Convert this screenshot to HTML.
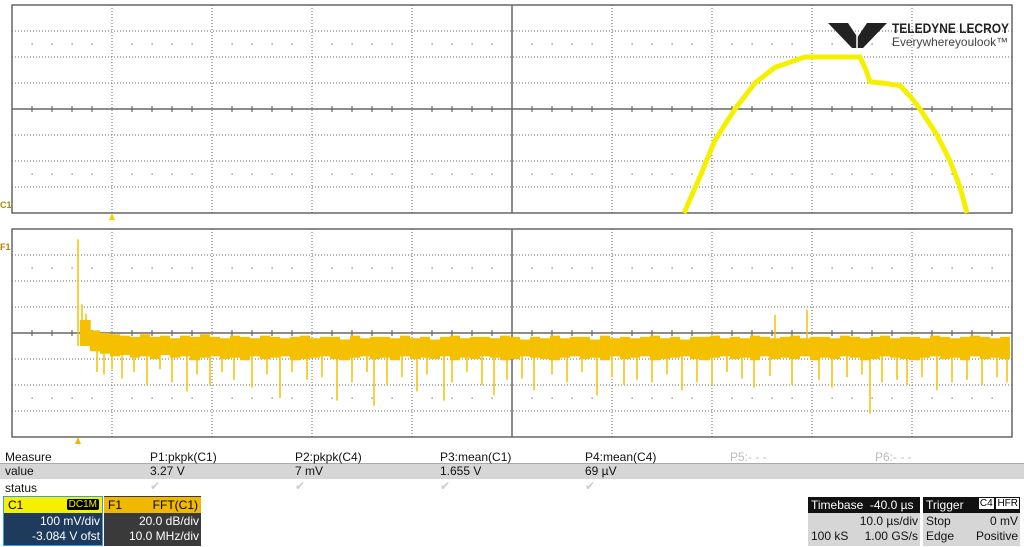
<!DOCTYPE html>
<html><head><meta charset="utf-8"><style>
html,body{margin:0;padding:0;background:#fff;width:1024px;height:547px;overflow:hidden;font-family:"Liberation Sans",sans-serif;}
svg{position:absolute;left:0;top:0}
.t{position:absolute;font-size:12px;color:#111;white-space:nowrap}
.box{position:absolute;font-size:12px;}
</style></head><body>
<svg id="chart" width="1024" height="547"></svg>

<div class="t" style="left:5px;top:450px">Measure</div>
<div style="position:absolute;left:0;top:463px;width:1024px;height:15px;background:#d6d6d6;border-top:1px solid #aaa"></div>
<div class="t" style="left:5px;top:464px">value</div>
<div class="t" style="left:5px;top:481px">status</div>
<div class="t" style="left:150px;top:450px">P1:pkpk(C1)</div>
<div class="t" style="left:295px;top:450px">P2:pkpk(C4)</div>
<div class="t" style="left:440px;top:450px">P3:mean(C1)</div>
<div class="t" style="left:585px;top:450px">P4:mean(C4)</div>
<div class="t" style="left:730px;top:450px;color:#bbb">P5:- - -</div>
<div class="t" style="left:875px;top:450px;color:#bbb">P6:- - -</div>
<div class="t" style="left:150px;top:464px">3.27 V</div>
<div class="t" style="left:295px;top:464px">7 mV</div>
<div class="t" style="left:440px;top:464px">1.655 V</div>
<div class="t" style="left:585px;top:464px">69 µV</div>
<div class="t" style="left:150px;top:479px;color:#ccc">✔</div>
<div class="t" style="left:295px;top:479px;color:#ccc">✔</div>
<div class="t" style="left:440px;top:479px;color:#ccc">✔</div>
<div class="t" style="left:585px;top:479px;color:#ccc">✔</div>

<div class="box" style="left:3px;top:496px;width:98px;height:48px;background:#1e3a5c;border:1px solid #3a9ee8;color:#fff">
  <div style="background:#f5f000;color:#000;height:16px;position:relative"><span style="position:absolute;left:4px;top:1px">C1</span><span style="position:absolute;right:3px;top:2px;background:#000;color:#f5f000;font-size:10px;padding:0 2px;border-radius:2px">DC1M</span></div>
  <div style="text-align:right;padding-right:2px;line-height:15px;margin-top:1px">100 mV/div<br>-3.084 V ofst</div>
</div>
<div class="box" style="left:104px;top:496px;width:97px;height:50px;background:#3a3a3a;color:#fff">
  <div style="background:#f0b800;color:#000;height:16px;position:relative;top:1px"><span style="position:absolute;left:4px;top:1px">F1</span><span style="position:absolute;right:3px;top:1px">FFT(C1)</span></div>
  <div style="text-align:right;padding-right:2px;line-height:15px;margin-top:2px">20.0 dB/div<br>10.0 MHz/div</div>
</div>
<div class="box" style="left:808px;top:497px;width:112px;height:49px;background:#d6d6d6;color:#111">
  <div style="background:#111;color:#fff;height:16px;padding-left:3px;line-height:16px">Timebase&nbsp; -40.0 µs</div>
  <div style="text-align:right;padding-right:2px;line-height:15px;margin-top:1px">10.0 µs/div</div>
  <div style="line-height:15px;padding-left:3px">100 kS<span style="float:right;padding-right:2px">1.00 GS/s</span></div>
</div>
<div class="box" style="left:923px;top:497px;width:97px;height:49px;background:#d6d6d6;color:#111">
  <div style="background:#111;color:#fff;height:16px;padding-left:3px;line-height:16px;position:relative">Trigger<span style="position:absolute;right:1px;top:1px;font-size:10px;line-height:12px"><span style="background:#fff;color:#000;padding:0 1px">C4</span> <span style="background:#fff;color:#000;padding:0 1px">HFR</span></span></div>
  <div style="line-height:15px;padding-left:3px;margin-top:1px">Stop<span style="float:right;padding-right:2px">0 mV</span></div>
  <div style="line-height:15px;padding-left:3px">Edge<span style="float:right;padding-right:2px">Positive</span></div>
</div>

<script>
// C1 time-domain trace: time in divisions (0..10), volts in divisions (-4..4)
const c1Time = [6.72,6.88,7.03,7.23,7.43,7.63,7.78,7.93,8.10,8.30,8.48,8.54,8.58,8.70,8.88,8.98,9.08,9.25,9.38,9.48,9.55];
const c1Volts = [-4,-2.6,-1.2,0,1.0,1.6,1.8,2.0,2.0,2.0,2.0,1.5,1.05,1.0,0.9,0.5,0,-1.0,-2.0,-3.0,-4];
// FFT trace: envelope top/bottom in dB relative to center, per bin
const fftBinStart = 0.68, fftBinWidth = 0.1;
const fftHi = [10,2,0,-1,-2,-3,-1,-3,-2,-4,-2,-3,-1,-3,-4,-2,-3,-4,-2,-3,-4,-3,-2,-4,-3,-3,-5,-2,-4,-3,-3,-4,-2,-4,-3,-5,-3,-2,-4,-3,-3,-4,-2,-3,-5,-3,-4,-2,-4,-3,-3,-5,-2,-4,-3,-4,-3,-2,-4,-3,-5,-3,-3,-2,-4,-3,-4,-2,-3,-4,-3,-2,-4,-3,-3,-4,-2,-3,-4,-3,-2,-4,-3,-3,-4,-2,-3,-4,-3,-2,-3,-4,-3];
const fftLo = [-10,-14,-16,-18,-17,-19,-18,-20,-17,-19,-18,-21,-19,-18,-20,-19,-21,-18,-20,-19,-18,-21,-20,-19,-18,-20,-21,-19,-18,-20,-19,-21,-18,-20,-19,-20,-18,-21,-19,-20,-18,-19,-21,-20,-18,-19,-20,-21,-19,-18,-20,-19,-21,-18,-20,-19,-18,-21,-20,-19,-18,-20,-21,-19,-18,-20,-19,-21,-18,-20,-19,-20,-18,-21,-19,-20,-18,-19,-21,-20,-18,-19,-20,-21,-19,-18,-20,-19,-21,-18,-20,-19,-20];
const spikeX = [0.66,0.70,0.74,0.78,0.85,0.92,1.00,1.10,1.22,1.35,1.48,1.60,1.75,1.85,1.98,2.10,2.22,2.40,2.55,2.68,2.80,2.95,3.10,3.25,3.40,3.55,3.62,3.75,3.90,4.05,4.15,4.32,4.40,4.55,4.70,4.82,4.95,5.10,5.22,5.40,5.55,5.70,5.85,6.00,6.12,6.25,6.40,6.55,6.70,6.85,7.00,7.15,7.30,7.42,7.58,7.63,7.80,7.95,8.07,8.20,8.35,8.50,8.58,8.70,8.85,8.95,9.10,9.25,9.40,9.55,9.70,9.85,9.95];
const spikeY = [72,22,15,10,-30,-32,-28,-35,-30,-40,-28,-38,-45,-32,-40,-30,-36,-42,-32,-50,-30,-36,-34,-52,-38,-30,-56,-40,-34,-45,-32,-52,-38,-30,-40,-48,-36,-35,-44,-32,-38,-30,-48,-34,-40,-36,-38,-32,-44,-38,-40,-30,-35,-42,-33,14,-40,18,-36,-42,-34,-32,-62,-38,-36,-40,-34,-44,-38,-36,-40,-34,-38];

const NS='http://www.w3.org/2000/svg';
const svg=document.getElementById('chart');
function el(tag,attrs){const e=document.createElementNS(NS,tag);for(const k in attrs)e.setAttribute(k,attrs[k]);svg.appendChild(e);return e;}
const X0=12,XW=100;
const tx=d=>X0+d*XW;
const TOPC=109, BOTC=333, DIV=26;
const vy=v=>TOPC-v*DIV;
const dby=db=>BOTC-db/20*DIV;

function grid(cy,name){
  const top=cy-4*DIV, bot=cy+4*DIV;
  const g=el('g',{});
  
  
  for(let i=-3;i<=3;i++){ if(i===0)continue;
    const l=el('line',{x1:X0,x2:X0+1000,y1:cy+i*DIV,y2:cy+i*DIV,stroke:'#666','stroke-width':1,'stroke-dasharray':'1 2'}); g.appendChild(l);}
  for(let i=1;i<10;i++){ if(i===5)continue;
    const l=el('line',{x1:tx(i),x2:tx(i),y1:top,y2:bot,stroke:'#666','stroke-width':1,'stroke-dasharray':'1 2'}); g.appendChild(l);}
  g.appendChild(el('line',{x1:X0,x2:X0+1000,y1:cy,y2:cy,stroke:'#666','stroke-width':1.5}));
  g.appendChild(el('line',{x1:tx(5),x2:tx(5),y1:top,y2:bot,stroke:'#666','stroke-width':1.5}));
  for(let i=0;i<50;i++){const x=X0+i*20; if(i%5===0)continue;
    g.appendChild(el('line',{x1:x,x2:x,y1:cy-3,y2:cy+3,stroke:'#666','stroke-width':1.2}));
    g.appendChild(el('rect',{x:x-0.5,y:cy-2.5*DIV-0.5,width:1.2,height:1.2,fill:'#666'}));
    g.appendChild(el('rect',{x:x-0.5,y:cy+2.5*DIV-0.5,width:1.2,height:1.2,fill:'#666'}));
  }
  g.appendChild(el('rect',{x:X0,y:top,width:1000,height:8*DIV,fill:'none',stroke:'#666','stroke-width':1.5}));
}
grid(TOPC,'c1-grid');
grid(BOTC,'f1-grid');

// FFT envelope
let pts=[];
for(let i=0;i<fftHi.length;i++){pts.push(tx(fftBinStart+i*fftBinWidth)+','+dby(fftHi[i]));pts.push(tx(fftBinStart+(i+1)*fftBinWidth)+','+dby(fftHi[i]));}
for(let i=fftLo.length-1;i>=0;i--){pts.push(tx(fftBinStart+(i+1)*fftBinWidth)+','+dby(fftLo[i]));pts.push(tx(fftBinStart+i*fftBinWidth)+','+dby(fftLo[i]));}
const env=el('polygon',{points:pts.join(' '),fill:'#f5c000'});


for(let i=0;i<spikeX.length;i++){
  const s=el('line',{x1:tx(spikeX[i]),x2:tx(spikeX[i]),y1:dby(-10),y2:dby(spikeY[i]),stroke:'#f5c000','stroke-width':1.5});
  
  
}

// C1 trace
const c1=el('polyline',{points:c1Time.map((t,i)=>tx(t)+','+vy(c1Volts[i])).join(' '),fill:'none',stroke:'#f5f000','stroke-width':5,'stroke-linejoin':'miter'});



// markers
const m1=el('polygon',{points:'109,220 115,220 112,213',fill:'#f5d000'});


const m2=el('polygon',{points:'75,444 81,444 78,437',fill:'#f0b800'});


const l1=el('text',{x:0,y:208,'font-size':9,'font-weight':'bold',fill:'#a09000','font-family':'Liberation Sans'}); l1.textContent='C1';


const l2=el('text',{x:0,y:250,'font-size':9,'font-weight':'bold',fill:'#b08000','font-family':'Liberation Sans'}); l2.textContent='F1';



// logo
const logo=el('g',{});


logo.appendChild(el('polygon',{points:'828,23 848,23 858,38 858,48 852,48',fill:'#222'}));
logo.appendChild(el('polygon',{points:'887,23 867,23 857,38 857,48 863,48',fill:'#222'}));
logo.appendChild(el('line',{x1:857,y1:22,x2:857,y2:48,stroke:'#fff','stroke-width':1.5}));
const lt=el('text',{x:892,y:33,'font-size':14,'font-weight':'bold',fill:'#222','font-family':'Liberation Sans',textLength:117,lengthAdjust:'spacingAndGlyphs'}); lt.textContent='TELEDYNE LECROY'; logo.appendChild(lt);
const lt2=el('text',{x:892,y:46,'font-size':12,fill:'#444','font-family':'Liberation Sans',textLength:116,lengthAdjust:'spacingAndGlyphs'}); lt2.textContent='Everywhereyoulook™'; logo.appendChild(lt2);
</script>
</body></html>
